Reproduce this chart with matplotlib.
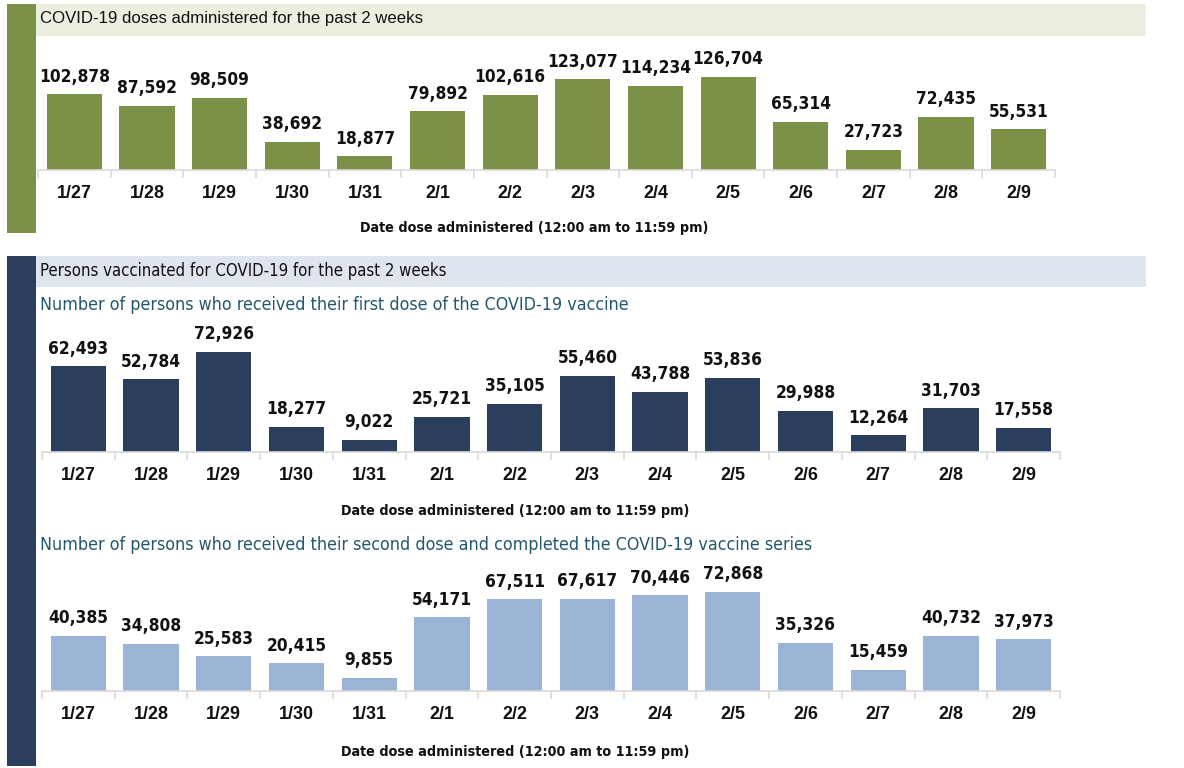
import os
import matplotlib
matplotlib.use("Agg")
import matplotlib.pyplot as plt
from matplotlib.patches import Rectangle
from matplotlib import font_manager as fm
from matplotlib.textpath import TextPath

dates = ["1/27", "1/28", "1/29", "1/30", "1/31", "2/1", "2/2", "2/3", "2/4", "2/5", "2/6", "2/7", "2/8", "2/9"]
doses = [102878, 87592, 98509, 38692, 18877, 79892, 102616, 123077, 114234, 126704, 65314, 27723, 72435, 55531]
first_dose = [62493, 52784, 72926, 18277, 9022, 25721, 35105, 55460, 43788, 53836, 29988, 12264, 31703, 17558]
second_dose = [40385, 34808, 25583, 20415, 9855, 54171, 67511, 67617, 70446, 72868, 35326, 15459, 40732, 37973]

title_top = "COVID-19 doses administered for the past 2 weeks"
title_bottom = "Persons vaccinated for COVID-19 for the past 2 weeks"
sub_first = "Number of persons who received their first dose of the COVID-19 vaccine"
sub_second = "Number of persons who received their second dose and completed the COVID-19 vaccine series"
xlabel = "Date dose administered (12:00 am to 11:59 pm)"

GREEN = "#7B9147"
NAVY = "#2B3E5E"
LIGHT = "#9BB3D5"
TEAL = "#24566E"
INK = "#111111"

W, H = 1184, 768


def find_font(names, fallback_family, weight):
    files = {os.path.basename(f.fname): f.fname for f in fm.fontManager.ttflist}
    for n in names:
        if n in files:
            return fm.FontProperties(fname=files[n])
    return fm.FontProperties(family=fallback_family, weight=weight)


narrow_bold = find_font(["LiberationSansNarrow-Bold.ttf", "DejaVuSansCondensed-Bold.ttf",
                         "RobotoCondensed-Bold.ttf", "Roboto-Bold.ttf"], "Roboto", "bold")
narrow_reg = find_font(["LiberationSansNarrow-Regular.ttf", "DejaVuSansCondensed.ttf",
                        "RobotoCondensed-Regular.ttf", "Roboto-Regular.ttf"], "Roboto", "normal")
sans_bold = find_font(["LiberationSans-Bold.ttf"], "DejaVu Sans", "bold")
sans_reg = find_font(["LiberationSans-Regular.ttf"], "DejaVu Sans", "normal")


def fit(prop, text, target_px):
    """Font size (pt) that makes text about target_px wide at 100 dpi."""
    tp = TextPath((0, 0), text, size=100, prop=prop)
    w = tp.get_extents().width  # width in points at size 100
    w_px = w * 100 / 72
    return 100 * target_px / w_px


def fp(prop, size):
    p = prop.copy()
    p.set_size(size)
    return p


VAL_SIZE = fit(narrow_bold, "102,878", 68)
TICK_SIZE = fit(sans_bold, "1/27", 33)
XLAB_SIZE = fit(narrow_bold, xlabel, 345)
TOP_TITLE_SIZE = fit(sans_reg, title_top, 380)
BOT_TITLE_SIZE = fit(narrow_reg, title_bottom, 404)
SUB_SIZE = fit(narrow_reg, sub_first, 586)

fig = plt.figure(figsize=(W / 100, H / 100), dpi=100)
fig.patch.set_facecolor("white")


def px_rect(x0, y0, x1, y1, color):
    fig.patches.append(Rectangle((x0 / W, 1 - y1 / H), (x1 - x0) / W, (y1 - y0) / H,
                                 transform=fig.transFigure, facecolor=color,
                                 edgecolor="none", zorder=0))


def px_text(x, y, s, **kw):
    fig.text(x / W, 1 - y / H, s, **kw)


def panel(x0, x1, ybase, height_px, ymax, values, color, xlab_x, xlab_y):
    ax = fig.add_axes([x0 / W, 1 - ybase / H, (x1 - x0) / W, height_px / H])
    pos = list(range(len(values)))
    bars = ax.bar(pos, values, width=0.76, color=color, zorder=2)
    ax.set_xlim(-0.5, len(values) - 0.5)
    ax.set_ylim(0, ymax)
    for spine in ["top", "right", "left"]:
        ax.spines[spine].set_visible(False)
    ax.spines["bottom"].set_color("#D9D9D9")
    ax.spines["bottom"].set_linewidth(1.2)
    ax.set_yticks([])
    ax.set_xticks([p - 0.5 for p in pos] + [len(values) - 0.5])
    ax.set_xticklabels([])
    ax.set_xticks(pos, minor=True)
    ax.set_xticklabels(dates, minor=True)
    ax.tick_params(axis="x", which="major", length=6, color="#D9D9D9", width=1.2)
    ax.tick_params(axis="x", which="minor", length=0, pad=11)
    for lab in ax.get_xticklabels(minor=True):
        lab.set_fontproperties(fp(sans_bold, TICK_SIZE))
        lab.set_color(INK)
    for b, v in zip(bars, values):
        ax.annotate(f"{v:,}", (b.get_x() + b.get_width() / 2, v),
                    xytext=(0, 9), textcoords="offset points",
                    ha="center", va="baseline", fontproperties=fp(narrow_bold, VAL_SIZE),
                    color=INK, annotation_clip=False)
    ax.patch.set_alpha(0)
    px_text(xlab_x, xlab_y, xlabel, ha="center", va="center",
            fontproperties=fp(narrow_bold, XLAB_SIZE), color=INK)
    return ax


# Top section decorations
px_rect(7, 4, 36, 233, GREEN)
px_rect(36, 4, 1146, 36, "#EBEFDF")
px_text(40, 19, title_top, ha="left", va="center",
        fontproperties=fp(sans_reg, TOP_TITLE_SIZE), color=INK)

panel(38, 1055, 170, 103, 140000, doses, GREEN, 534, 228)

# Bottom section decorations
px_rect(7, 256, 36, 766, NAVY)
px_rect(36, 256, 1146, 287, "#DEE5EF")
px_text(40, 271, title_bottom, ha="left", va="center",
        fontproperties=fp(narrow_reg, BOT_TITLE_SIZE), color=INK)
px_text(40, 305, sub_first, ha="left", va="center",
        fontproperties=fp(narrow_reg, SUB_SIZE), color=TEAL)
px_text(40, 545, sub_second, ha="left", va="center",
        fontproperties=fp(narrow_reg, SUB_SIZE), color=TEAL)

panel(42, 1060, 452, 110, 80000, first_dose, NAVY, 515, 511)
panel(42, 1060, 691, 109, 80000, second_dose, LIGHT, 515, 752)

fig.savefig("out.png", dpi=100)
